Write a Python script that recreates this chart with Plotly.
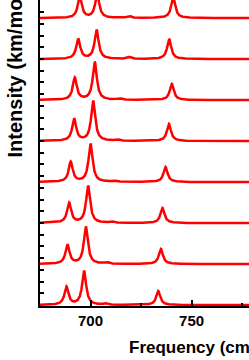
import numpy as np
import plotly.graph_objects as go

# Peak positions (cm^-1) and intensities (km/mol) per spectrum, top to bottom
pos_a = [694.7, 693.9, 692.2, 691.9, 690.2, 689.4, 688.6, 688.1]
int_a = [179, 171, 188, 188, 171, 171, 162, 154]
pos_b = [703.3, 703.0, 702.1, 701.3, 700.0, 698.8, 697.7, 696.8]
int_b = [205, 248, 325, 342, 325, 316, 316, 290]
pos_c = [719.0, 719.0, 714.5, 713.0, 711.5, 710.5, 708.1, 707.4]
int_c = [17, 17, 13, 13, 13, 13, 13, 13]
pos_d = [740.9, 738.9, 740.2, 738.8, 737.1, 735.6, 734.8, 733.5]
int_d = [179, 171, 137, 145, 128, 128, 128, 120]
offset_step = 350
hwhm = 1.2

x_ticks = [700, 750]
x_range = [675, 778.4]
y_range = [-8, 2604]

freq = np.linspace(675, 780, 2000)
n = len(pos_a)

fig = go.Figure()
for i in range(n):
    offset = (n - 1 - i) * offset_step
    y = np.full_like(freq, float(offset))
    for p, a in ((pos_a[i], int_a[i]), (pos_b[i], int_b[i]),
                 (pos_c[i], int_c[i]), (pos_d[i], int_d[i])):
        y += a * hwhm**2 / ((freq - p) ** 2 + hwhm**2)
    fig.add_trace(go.Scatter(x=freq, y=y, mode="lines",
                             line=dict(color="#ff0000", width=2.5),
                             showlegend=False, hoverinfo="skip"))

fig.update_layout(
    width=249, height=360,
    margin=dict(l=40, r=0, t=0, b=54),
    paper_bgcolor="white", plot_bgcolor="white",
    font=dict(family="Liberation Sans, Arial, sans-serif", color="black"),
)
fig.update_xaxes(
    range=x_range, tickvals=x_ticks, ticktext=[str(v) for v in x_ticks],
    ticks="inside", ticklen=6, tickwidth=1.5, tickcolor="black",
    showline=True, linecolor="black", linewidth=2, showgrid=False, zeroline=False,
    tickfont=dict(size=15, weight="bold"),
    minor=dict(ticks="inside", ticklen=3, tickwidth=1.5, tickcolor="black", dtick=25, tick0=0, showgrid=False),
)
fig.update_yaxes(
    range=y_range, tick0=0, dtick=100, showticklabels=False,
    ticks="inside", ticklen=4, tickwidth=1.5, tickcolor="black",
    showline=True, linecolor="black", linewidth=2, showgrid=False, zeroline=False,
)
fig.add_annotation(text="Frequency (cm<sup>-1</sup>)", xref="paper", yref="paper",
                   x=(127 - 40) / 209, y=-0.088, xanchor="left", yanchor="top",
                   showarrow=False, font=dict(size=17, weight="bold"))
fig.add_annotation(text="Intensity (km/mol)", xref="paper", yref="paper",
                   x=(15 - 40) / 209, y=(306 - 160) / 306, xanchor="center", yanchor="bottom",
                   textangle=-90, showarrow=False, font=dict(size=20, weight="bold"))

fig.write_html("out.html", config={"displayModeBar": False},
               post_script="document.body.style.margin='0';")
